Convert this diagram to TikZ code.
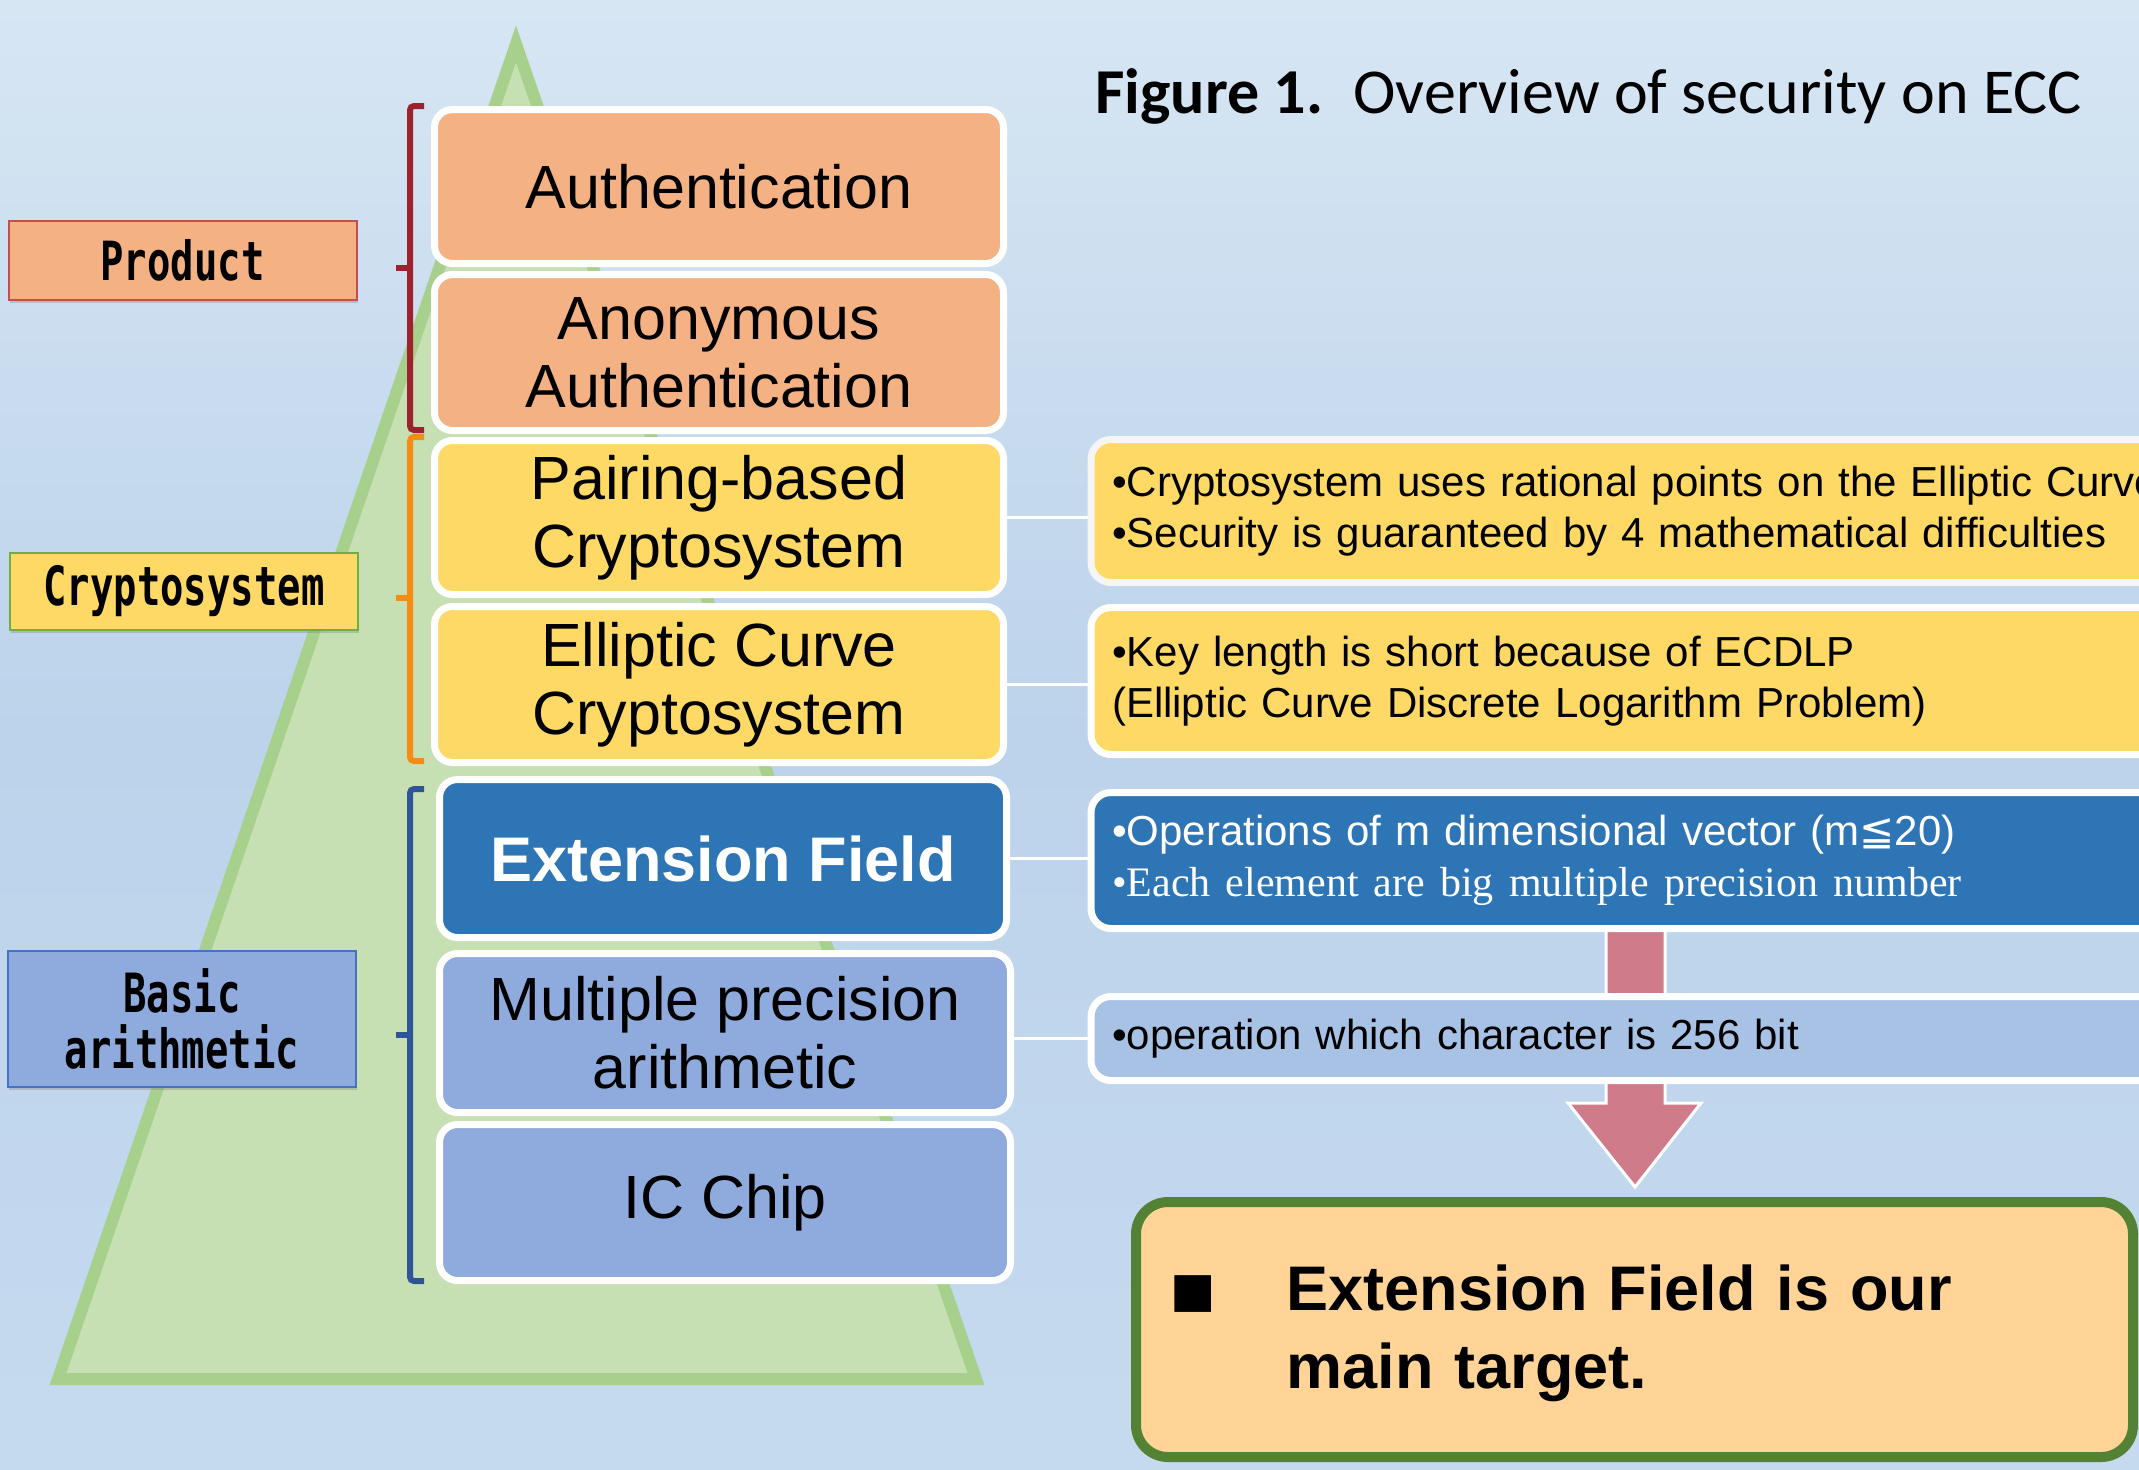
\documentclass[tikz,border=0pt]{standalone}
\usepackage{fontspec}
\setmainfont{Liberation Sans}
\newfontfamily\titlefont{Carlito}
\newfontfamily\gothic{DejaVu Sans Mono}[FakeStretch=0.72]
\newfontfamily\serifx{Liberation Serif}
\newfontfamily\symfont{DejaVu Sans}
\usetikzlibrary{calc,shadows}
\setlength{\parindent}{0pt}
\definecolor{bgtop}{RGB}{215,230,243}
\definecolor{bgmid}{RGB}{188,211,235}
\definecolor{bgbot}{RGB}{198,218,239}
\definecolor{trifill}{RGB}{198,224,180}
\definecolor{triline}{RGB}{168,208,141}
\definecolor{peach}{RGB}{244,177,131}
\definecolor{gold}{RGB}{255,217,102}
\definecolor{deepblue}{RGB}{46,117,182}
\definecolor{softblue}{RGB}{143,170,220}
\definecolor{paleblue}{RGB}{168,194,229}
\definecolor{prodred}{RGB}{155,35,45}
\definecolor{cryorange}{RGB}{245,140,20}
\definecolor{basicblue}{RGB}{47,85,151}
\definecolor{prodedge}{RGB}{192,80,77}
\definecolor{cryedge}{RGB}{112,173,71}
\definecolor{basicedge}{RGB}{68,114,196}
\definecolor{arrowpink}{RGB}{208,123,138}
\definecolor{tgtfill}{RGB}{255,212,150}
\definecolor{tgtgreen}{RGB}{84,130,53}
\begin{document}
\begin{tikzpicture}[x=0.5pt,y=-0.5pt,
  layer/.style={draw=white, line width=3.5pt, rounded corners=9pt, align=center, inner sep=0pt,
    font=\fontsize{30.5}{34}\selectfont, minimum width=284.5pt,
    drop shadow={shadow xshift=0.5pt, shadow yshift=-1.2pt, opacity=0.3}},
  side/.style={line width=1pt, inner sep=0pt, align=center,
    font=\gothic\bfseries\fontsize{27}{28}\selectfont, minimum width=174pt,
    drop shadow={shadow xshift=0.5pt, shadow yshift=-1.5pt, opacity=0.35}},
  info/.style={anchor=west, draw=white, line width=3.5pt, rounded corners=10pt, inner xsep=10.5pt, inner ysep=0pt,
    text width=700pt, align=left, font=\fontsize{21}{25.5}\selectfont},
  conn/.style={draw=white, line width=1.5pt},
  brk/.style={line width=3pt, rounded corners=2pt},
]
\useasboundingbox (0,0) rectangle (2139,1469);
\clip (0,0) rectangle (2139,1469);
% background
\shade[top color=bgtop, bottom color=bgbot, middle color=bgmid] (0,0) rectangle (2139,1469);
% pyramid
\draw[fill=trifill, draw=triline, line width=6pt] (516,44) -- (976,1379) -- (58,1379) -- cycle;
% brackets
\draw[brk, draw=prodred] (424,106) -- (410,106) -- (410,430) -- (424,430);
\draw[brk, draw=prodred] (410,268) -- (396,268);
\draw[brk, draw=cryorange] (424,437) -- (410,437) -- (410,761) -- (424,761);
\draw[brk, draw=cryorange] (410,598) -- (396,598);
\draw[brk, draw=basicblue] (424,789) -- (410,789) -- (410,1281) -- (424,1281);
\draw[brk, draw=basicblue] (410,1035) -- (396,1035);
% side labels
\node[side, draw=prodedge, fill=peach, minimum height=39.5pt] (prod) at (182.5,260.5) {Product};
\node[side, draw=cryedge, fill=gold, minimum height=38.5pt] (cry) at (184,591.5) {Cryptosystem};
\node[side, draw=basicedge, fill=softblue, minimum height=68pt] (basic) at (182,1019) {Basic\\arithmetic};
% layers
\node[layer, fill=peach, minimum height=77pt] (auth) at (719,186.5) {Authentication};
\node[layer, fill=peach, minimum height=78pt] (anon) at (719,352.5) {Anonymous\\Authentication};
\node[layer, fill=gold, minimum height=77pt] (pair) at (719,517.5) {Pairing-based\\Cryptosystem};
\node[layer, fill=gold, minimum height=78pt] (ell) at (719,684.5) {Elliptic Curve\\Cryptosystem};
\node[layer, fill=deepblue, minimum height=79pt, minimum width=283.5pt, text=white,
  font=\bfseries\fontsize{31.5}{34}\selectfont] (ext) at (723,858.5) {Extension Field};
\node[layer, fill=softblue, minimum height=79.5pt, minimum width=285.5pt] (mul) at (725,1033) {Multiple precision\\arithmetic};
\node[layer, fill=softblue, minimum height=78pt, minimum width=285.5pt] (ic) at (725,1202.5) {IC Chip};
% block arrow
\draw[fill=arrowpink, draw=white, line width=1.5pt] (1606,920) -- (1665,920) -- (1665,1103) -- (1701,1103)
  -- (1635,1187) -- (1568,1103) -- (1606,1103) -- cycle;
% info boxes
\node[info, draw=white!92!gray, fill=gold, minimum height=71.5pt] (i1) at (1087.5,511)
  {•Cryptosystem uses rational points on the Elliptic Curve\\•Security is guaranteed by 4 mathematical difficulties};
\node[info, fill=gold, minimum height=73.5pt] (i2) at (1087.5,681)
  {•Key length is short because of ECDLP\\(Elliptic Curve Discrete Logarithm Problem)};
\node[info, fill=deepblue, text=white, minimum height=68pt] (i3) at (1087.5,860.5)
  {•Operations of m dimensional vector (m{\symfont ≦}20)\\{\serifx\spaceskip=0.36em •Each element are big multiple precision number}};
\node[info, fill=paleblue, minimum height=42pt] (i4) at (1087.5,1038.5)
  {•operation which character is 256 bit};
% connectors
\draw[conn] (pair.east) -- (pair.east -| i1.west);
\draw[conn] (ell.east) -- (ell.east -| i2.west);
\draw[conn] (ext.east) -- (ext.east -| i3.west);
\draw[conn] (i4.west -| mul.east) -- (i4.west);
% title
\node[anchor=base west, inner sep=0pt, font=\titlefont\fontsize{32}{36}\selectfont] (title) at (1095,113)
  {\textbf{Figure 1.}\hspace{15pt}Overview of security on ECC};
% target box
\node[draw=tgtgreen, fill=tgtfill, line width=5pt, rounded corners=16pt, minimum width=498.5pt,
  minimum height=127.5pt, inner xsep=17pt, inner ysep=0pt, text width=464pt, align=left,
  font=\bfseries\fontsize{31.5}{39}\selectfont] (tgt) at (1634.5,1329.5)
  {\vspace*{-4pt}\begin{tabular}{@{}p{58pt}@{}l@{}}\raisebox{2pt}{\symfont\fontsize{24}{24}\selectfont ■} & Extension Field is our\\ & main target.\end{tabular}};
\end{tikzpicture}
\end{document}
